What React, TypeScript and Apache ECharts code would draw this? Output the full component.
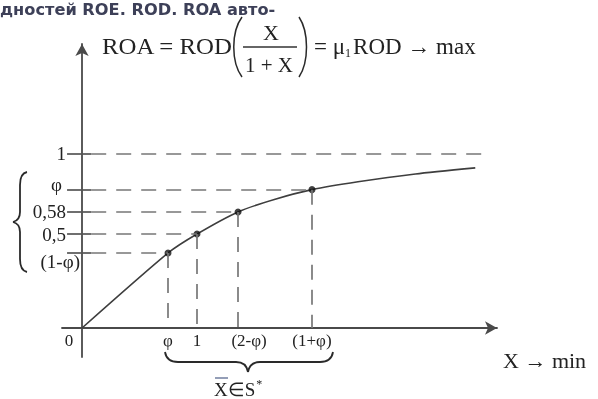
import React, { useEffect, useRef } from "react";
import * as echarts from "echarts";

// Schematic axis units (not to scale in the original)
const Y_LEVELS = [1, 0.795, 0.667, 0.54, 0.431];
const Y_LABELS = ["1", "φ", "0,58", "0,5", "(1-φ)"];
const X_TICKS = [0, 0.748, 1.0, 1.357, 2.0];
const X_LABELS = ["0", "φ", "1", "(2-φ)", "(1+φ)"];
const POINT_X = [0.748, 1.0, 1.357, 2.0];
const POINT_Y = [0.431, 0.54, 0.667, 0.795];
const CURVE_X = [0, 0.748, 1.0, 1.357, 1.68, 2.0, 2.4, 2.9, 3.42];
const CURVE_Y = [0, 0.431, 0.54, 0.667, 0.74, 0.795, 0.84, 0.885, 0.92];
const ONE_LINE_END = 3.55;
const TICK_FROM = -0.13;
const TICK_TO = 0.08;

const SERIF = "Liberation Serif";
const INK = "#222";
const DASH = "#777";

export default function App() {
  const ref = useRef<HTMLDivElement>(null);
  useEffect(() => {
    const chart = echarts.init(ref.current!, null, { renderer: "svg" });

    const dashed: any[] = [
      [{ coord: [TICK_TO, 1] }, { coord: [ONE_LINE_END, 1] }],
    ];
    POINT_X.forEach((x, i) => {
      dashed.push([{ coord: [TICK_TO, POINT_Y[i]] }, { coord: [x, POINT_Y[i]] }]);
      dashed.push([{ coord: [x, POINT_Y[i]] }, { coord: [x, 0] }]);
    });
    const ticks = Y_LEVELS.map((y) => [{ coord: [TICK_FROM, y] }, { coord: [TICK_TO, y] }]);

    const bez = (x1: number, y1: number, cpx1: number, cpy1: number, cpx2: number, cpy2: number, x2: number, y2: number, w = 1.8) => ({
      type: "bezierCurve",
      shape: { x1, y1, cpx1, cpy1, cpx2, cpy2, x2, y2 },
      style: { stroke: "#2a2a2a", lineWidth: w, fill: "none" },
      silent: true,
    });
    const seg = (x1: number, y1: number, x2: number, y2: number, w = 1.8, c = "#2a2a2a") => ({
      type: "line",
      shape: { x1, y1, x2, y2 },
      style: { stroke: c, lineWidth: w },
      silent: true,
    });

    const option: any = {
      animation: false,
      grid: { left: 62, right: 101, top: 44, bottom: 42 },
      xAxis: {
        type: "value",
        min: -0.174,
        max: 3.609,
        splitLine: { show: false },
        axisTick: { show: false },
        axisLine: {
          onZero: true,
          lineStyle: { color: "#4a4a4a", width: 1.8 },
          symbol: ["none", "arrow"],
          symbolSize: [10, 12],
        },
        axisLabel: {
          customValues: X_TICKS,
          margin: -25,
          fontFamily: SERIF,
          fontSize: 17,
          color: INK,
          formatter: (v: number) => {
            const i = X_TICKS.indexOf(v);
            if (i < 0) return "";
            if (i === 0) return "{o|" + X_LABELS[i] + "}";
            if (i === 3) return "{r|" + X_LABELS[i] + "}";
            return X_LABELS[i];
          },
          rich: {
            o: { fontFamily: SERIF, fontSize: 17, color: INK, padding: [0, 26, 0, 0] },
            r: { fontFamily: SERIF, fontSize: 17, color: INK, padding: [0, 0, 0, 22] },
          },
        },
      },
      yAxis: {
        type: "value",
        min: -0.1667,
        max: 1.632,
        splitLine: { show: false },
        axisTick: { show: false },
        axisLine: {
          onZero: true,
          lineStyle: { color: "#4a4a4a", width: 1.8 },
          symbol: ["none", "arrow"],
          symbolSize: [10, 12],
        },
        axisLabel: {
          customValues: Y_LEVELS,
          margin: -18,
          fontFamily: SERIF,
          fontSize: 19,
          color: INK,
          formatter: (v: number) => {
            const i = Y_LEVELS.indexOf(v);
            if (i < 0) return "";
            if (i === 4) return "{b|" + Y_LABELS[i] + "}";
            if (i === 1) return "{p|" + Y_LABELS[i] + "}";
            return "{a|" + Y_LABELS[i] + "}";
          },
          rich: {
            a: { fontFamily: SERIF, fontSize: 19, color: INK, padding: [0, 14, 0, 0] },
            p: { fontFamily: SERIF, fontSize: 19, color: INK, padding: [0, 18, 10, 0] },
            b: { fontFamily: SERIF, fontSize: 19, color: INK, padding: [18, 0, 0, 0] },
          },
        },
      },
      series: [
        {
          type: "line",
          data: CURVE_X.map((x, i) => [x, CURVE_Y[i]]),
          smooth: 0.22,
          symbol: "none",
          lineStyle: { color: "#3e3e3e", width: 1.6 },
          silent: true,
          z: 3,
          markLine: {
            silent: true,
            symbol: ["none", "none"],
            label: { show: false },
            emphasis: { disabled: true },
            lineStyle: { color: DASH, width: 1.7, type: [15, 10] },
            data: dashed,
          },
        },
        {
          type: "scatter",
          data: POINT_X.map((x, i) => [x, POINT_Y[i]]),
          symbol: "circle",
          symbolSize: 7,
          itemStyle: { color: "#111" },
          silent: true,
          z: 4,
          markLine: {
            silent: true,
            symbol: ["none", "none"],
            label: { show: false },
            emphasis: { disabled: true },
            lineStyle: { color: "#555", width: 1.7, type: "solid" },
            data: ticks,
          },
        },
      ],
      graphic: [
        {
          type: "text",
          x: 0,
          y: 10,
          scaleX: 1.08,
          silent: true,
          style: {
            text: "дностей ROE. ROD. ROA авто-",
            fontFamily: "DejaVu Sans",
            fontWeight: "bold",
            fontSize: 15,
            fill: "#3d4058",
            verticalAlign: "middle",
            align: "left",
          },
        },
        {
          type: "text",
          x: 102,
          y: 46,
          scaleX: 1.08,
          silent: true,
          style: { text: "ROA = ROD", fontFamily: SERIF, fontSize: 23, fill: INK, verticalAlign: "middle", align: "left" },
        },
        bez(242, 17, 231, 32, 231, 62, 242, 77, 1.5),
        {
          type: "text",
          x: 271,
          y: 32,
          silent: true,
          style: { text: "X", fontFamily: SERIF, fontSize: 22, fill: INK, verticalAlign: "middle", align: "center" },
        },
        seg(243, 47, 297, 47, 1.5, "#333"),
        {
          type: "text",
          x: 269,
          y: 65,
          silent: true,
          style: { text: "1 + X", fontFamily: SERIF, fontSize: 21, fill: INK, verticalAlign: "middle", align: "center" },
        },
        bez(299, 17, 309, 32, 309, 62, 299, 77, 1.5),
        {
          type: "text",
          x: 314,
          y: 46,
          silent: true,
          style: {
            text: "= μ{s|1}ROD → max",
            fontFamily: SERIF,
            fontSize: 23,
            fill: INK,
            verticalAlign: "middle",
            align: "left",
            rich: { s: { fontFamily: SERIF, fontSize: 12, fill: INK, padding: [14, 2, 0, 0] } },
          },
        },
        {
          type: "text",
          x: 503,
          y: 360,
          silent: true,
          style: { text: "X → min", fontFamily: SERIF, fontSize: 22, fill: INK, verticalAlign: "middle", align: "left" },
        },
        // left brace
        bez(27, 172, 22, 173, 20, 178, 20, 185),
        seg(20, 185, 20, 212),
        bez(20, 212, 20, 218, 17, 221, 13, 222),
        bez(13, 222, 17, 223, 20, 226, 20, 232),
        seg(20, 232, 20, 259),
        bez(20, 259, 20, 266, 22, 271, 27, 272),
        // bottom brace
        bez(165, 352, 166, 358, 170, 362, 178, 362),
        seg(178, 362, 236, 362),
        bez(236, 362, 243, 362, 247, 366, 248, 372),
        bez(248, 372, 249, 366, 253, 362, 260, 362),
        seg(260, 362, 320, 362),
        bez(320, 362, 328, 362, 332, 358, 333, 352),
        seg(215, 378, 228, 378, 1.3, "#5a6a90"),
        {
          type: "text",
          x: 214,
          y: 389,
          silent: true,
          style: {
            text: "X∈S{u|*}",
            fontFamily: SERIF,
            fontSize: 19,
            fill: INK,
            verticalAlign: "middle",
            align: "left",
            rich: { u: { fontFamily: SERIF, fontSize: 12, fill: INK, padding: [0, 0, 10, 1] } },
          },
        },
      ],
    };
    chart.setOption(option);
    return () => chart.dispose();
  }, []);
  return <div ref={ref} style={{ position: "fixed", left: 0, top: 0, width: 598, height: 399 }} />;
}
